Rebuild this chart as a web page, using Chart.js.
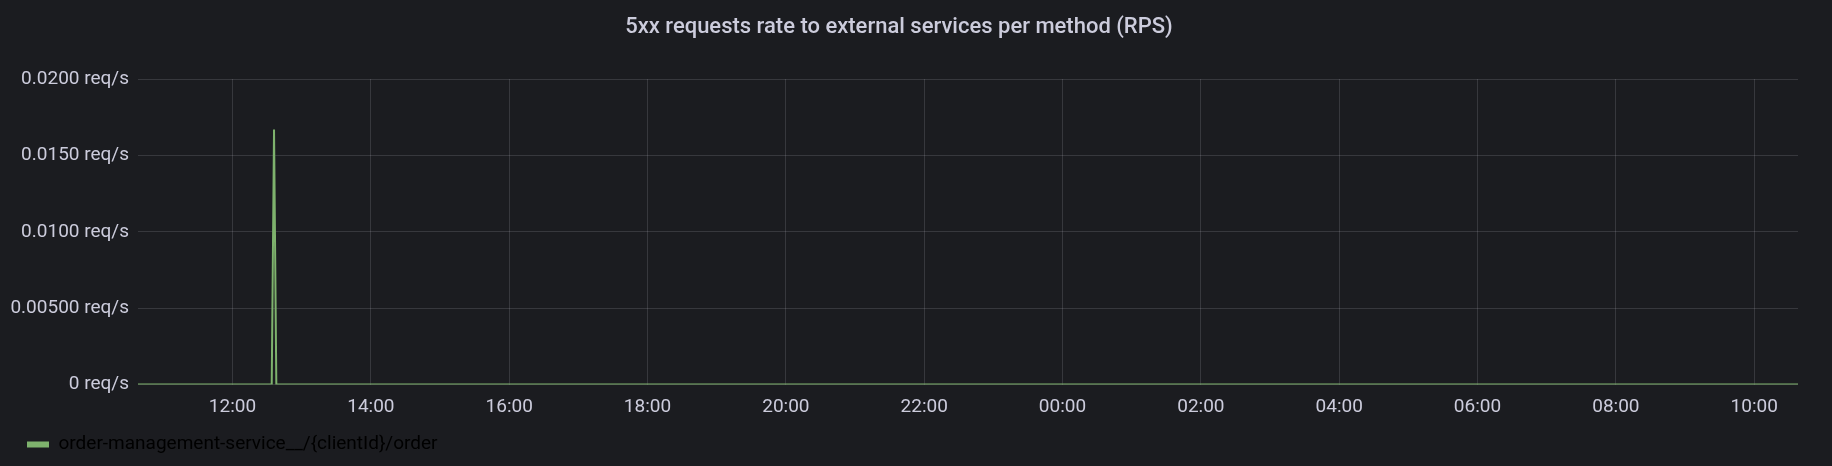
<!DOCTYPE html>
<html>
<head>
<meta charset="utf-8">
<script src="https://cdn.jsdelivr.net/npm/chart.js@4"></script>
<style>
  html, body { margin: 0; padding: 0; background: #1b1c20; }
  #wrap { width: 1832px; height: 466px; }
</style>
</head>
<body>
<div id="wrap"><canvas id="chartRps"></canvas></div>
<script>
// minutes since 00:00 of the first day (10:38 -> 10:38 next day)
const seriesMinutes = [638, 754, 756, 758, 2078];
const seriesValues = [0, 0, 0.0167, 0, 0];
const seriesName = "order-management-service__/{clientId}/order";

const xTickMinutes = [720, 840, 960, 1080, 1200, 1320, 1440, 1560, 1680, 1800, 1920, 2040];
const xTickLabels = ["12:00", "14:00", "16:00", "18:00", "20:00", "22:00", "00:00", "02:00", "04:00", "06:00", "08:00", "10:00"];
const yTickValues = [0, 0.005, 0.01, 0.015, 0.02];
const yTickLabels = ["0 req/s", "0.00500 req/s", "0.0100 req/s", "0.0150 req/s", "0.0200 req/s"];

const textColor = "rgb(204,204,220)";
const gridColor = "rgba(204,204,220,0.16)";
const lineColor = "#7eb26d";

Chart.defaults.font.family = "Roboto, 'Noto Sans', sans-serif";
Chart.defaults.color = textColor;

// legend sits a bit in from the left edge, like the panel
const legendShift = {
    id: "legendShift",
    afterLayout(chart) {
        chart.legend.left += 17;
        chart.legend.right += 17;
    }
};

const ctx = document.getElementById("chartRps").getContext("2d");
const rpsChart = new Chart(ctx, {
    type: "line",
    data: {
        datasets: [{
            label: seriesName,
            data: seriesMinutes.map((m, i) => ({ x: m, y: seriesValues[i] })),
            borderColor: lineColor,
            backgroundColor: lineColor,
            borderWidth: 2,
            pointRadius: 0,
            tension: 0,
            fill: false
        }]
    },
    plugins: [legendShift],
    options: {
        responsive: true,
        maintainAspectRatio: false,
        animation: false,
        layout: { padding: { left: 0, right: 34, top: 0, bottom: 2 } },
        plugins: {
            title: {
                display: true,
                text: "5xx requests rate to external services per method (RPS)",
                color: textColor,
                font: { size: 22, weight: "500" },
                padding: { top: 14, bottom: 38.6 }
            },
            legend: {
                position: "bottom",
                align: "start",
                labels: {
                    boxWidth: 22,
                    boxHeight: 6,
                    color: textColor,
                    font: { size: 19 },
                    padding: 10,
                    generateLabels: (chart) => [{
                        text: seriesName,
                        fillStyle: lineColor,
                        strokeStyle: lineColor,
                        lineWidth: 0,
                        datasetIndex: 0
                    }]
                }
            },
            tooltip: { enabled: false }
        },
        scales: {
            x: {
                type: "linear",
                min: 638,
                max: 2078,
                afterBuildTicks: (scale) => { scale.ticks = xTickMinutes.map(v => ({ value: v })); },
                afterFit: (scale) => { scale.height = 40.5; },
                ticks: {
                    color: textColor,
                    font: { size: 19 },
                    padding: 11,
                    maxRotation: 0,
                    autoSkip: false,
                    callback: (v, i) => xTickLabels[i]
                },
                grid: { color: gridColor, drawTicks: false },
                border: { display: false }
            },
            y: {
                min: 0,
                max: 0.02,
                afterBuildTicks: (scale) => { scale.ticks = yTickValues.map(v => ({ value: v })); },
                afterFit: (scale) => { scale.width = 138; },
                ticks: {
                    color: textColor,
                    font: { size: 19 },
                    padding: 9,
                    callback: (v, i) => yTickLabels[i]
                },
                grid: { color: gridColor, drawTicks: false },
                border: { display: false }
            }
        }
    }
});
</script>
</body>
</html>
